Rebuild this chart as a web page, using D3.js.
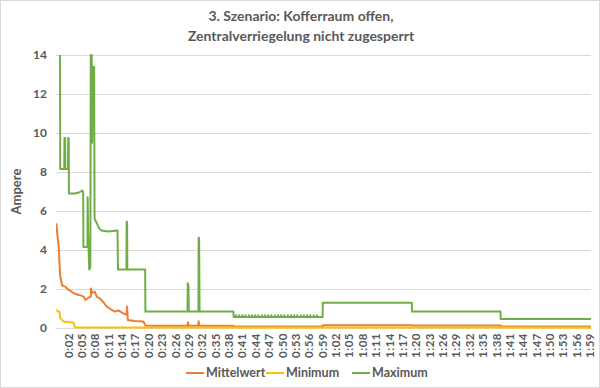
<!DOCTYPE html>
<html>
<head>
<meta charset="utf-8">
<script src="https://cdnjs.cloudflare.com/ajax/libs/d3/7.8.5/d3.min.js"></script>
<style>
  body { margin: 0; background: #fff; }
  text { font-family: Lato, "Open Sans", sans-serif; fill: #595959; }
</style>
</head>
<body>
<div id="chart"></div>
<script>
var width = 600,
	height = 388,
	plotLeft = 56,
	plotRight = 591,
	plotTop = 55,
	plotBottom = 328;

var titleLines = ["3. Szenario: Kofferraum offen,", "Zentralverriegelung nicht zugesperrt"];
var yTicks = [0, 2, 4, 6, 8, 10, 12, 14];
var xTickLabels = ["0:02","0:05","0:08","0:11","0:14","0:17","0:20","0:23","0:26","0:29",
	"0:32","0:35","0:38","0:41","0:44","0:47","0:50","0:53","0:56","0:59",
	"1:02","1:05","1:08","1:11","1:14","1:17","1:20","1:23","1:26","1:29",
	"1:32","1:35","1:38","1:41","1:44","1:47","1:50","1:53","1:56","1:59"];
var seriesNames = ["Mittelwert", "Minimum", "Maximum"];
var seriesColors = ["#ED7D31", "#FFC000", "#70AD47"];

// [seconds, ampere]
var mittelwert = [[-0.63,5.37],[-0.3,4.6],[-0.09,4.17],[0.04,3.49],[0.27,2.63],[0.65,2.2],[1.0,2.15],
	[1.39,2.12],[2.15,1.95],[2.7,1.88],[3.27,1.78],[4.39,1.69],[5.0,1.66],[5.52,1.6],[5.87,1.44],
	[6.3,1.5],[6.64,1.57],[7.1,1.6],[7.15,2.03],[7.38,1.8],[7.98,1.86],[8.5,1.6],[9.2,1.5],
	[10.0,1.3],[10.7,1.1],[11.6,0.96],[12.5,0.84],[13.3,0.9],[14.4,0.75],[15.15,0.67],[15.25,1.1],
	[15.4,0.41],[17.0,0.36],[18.9,0.33],[19.3,0.15],[19.4,0.12],[28.8,0.12],[28.9,0.3],[29.0,0.12],
	[31.2,0.12],[31.3,0.35],[31.4,0.12],[39.1,0.12],[39.15,0.08],[59.1,0.08],[59.15,0.14],
	[79.1,0.14],[79.15,0.13],[99.0,0.13],[99.05,0.08],[119.3,0.08]];

var minimum = [[-0.63,0.92],[-0.09,0.84],[0.04,0.84],[0.27,0.5],[1.03,0.33],[2.9,0.28],[3.2,0.28],
	[3.5,0.05],[4.0,0.03],[119.3,0.03]];

var maximum = [[0.2,14],[0.25,8.15],[1.15,8.15],[1.2,9.75],[1.35,9.75],[1.4,8.15],[2.0,8.15],
	[2.05,9.75],[2.15,9.75],[2.2,6.9],[3.5,6.9],[4.5,6.95],[5.2,7.05],[5.4,6.95],[5.45,4.15],
	[6.35,4.15],[6.4,6.7],[6.5,4.9],[6.75,3.0],[7.0,3.1],[7.1,14],[7.3,14],[7.4,9.5],[7.5,12.0],
	[7.6,11.9],[7.75,13.4],[7.85,13.4],[7.95,5.6],[8.4,5.4],[9.0,5.1],[9.5,5.0],[11,4.95],[12,4.98],
	[13.1,5.0],[13.2,3.0],[15.1,3.0],[15.15,5.45],[15.25,5.45],[15.3,3.0],[19.3,3.0],[19.35,0.84],
	[28.8,0.84],[28.85,2.3],[29.0,2.2],[29.1,0.84],[31.25,0.84],[31.3,4.63],[31.4,4.63],[31.5,0.84],
	[39.1,0.84],[39.15,0.56],
	[39.7,0.56],[39.7,0.66],[39.8,0.56],[40.4,0.56],[40.4,0.66],[40.5,0.56],[41.1,0.56],[41.1,0.66],[41.2,0.56],
	[41.8,0.56],[41.8,0.66],[41.9,0.56],[42.6,0.56],[42.6,0.66],[42.7,0.56],[43.3,0.56],[43.3,0.66],[43.4,0.56],
	[44.0,0.56],[44.0,0.66],[44.1,0.56],[44.7,0.56],[44.7,0.66],[44.8,0.56],[45.5,0.56],[45.5,0.66],[45.6,0.56],
	[46.2,0.56],[46.2,0.66],[46.3,0.56],[46.9,0.56],[46.9,0.66],[47.0,0.56],[47.6,0.56],[47.6,0.66],[47.7,0.56],
	[48.4,0.56],[48.4,0.66],[48.5,0.56],[49.1,0.56],[49.1,0.66],[49.2,0.56],[49.8,0.56],[49.8,0.66],[49.9,0.56],
	[50.5,0.56],[50.5,0.66],[50.6,0.56],[51.3,0.56],[51.3,0.66],[51.4,0.56],[52.0,0.56],[52.0,0.66],[52.1,0.56],
	[52.7,0.56],[52.7,0.66],[52.8,0.56],[53.4,0.56],[53.4,0.66],[53.5,0.56],[54.2,0.56],[54.2,0.66],[54.3,0.56],
	[54.9,0.56],[54.9,0.66],[55.0,0.56],[55.6,0.56],[55.6,0.66],[55.7,0.56],[56.3,0.56],[56.3,0.66],[56.4,0.56],
	[57.1,0.56],[57.1,0.66],[57.2,0.56],[57.8,0.56],[57.8,0.66],[57.9,0.56],
	[59.1,0.56],[59.15,1.3],[79.1,1.3],[79.15,0.84],[99.0,0.84],[99.05,0.46],[119.3,0.46]];

var allSeries = [mittelwert, minimum, maximum];

function parseTime(s) {
	var p = s.split(":");
	return +p[0] * 60 + +p[1];
}

var svg = d3.select("#chart").append("svg")
	.attr("width", width)
	.attr("height", height);

svg.append("rect")
	.attr("x", 0.5).attr("y", 0.5)
	.attr("width", width - 1).attr("height", height - 1)
	.style("fill", "#fff")
	.style("stroke", "#d9d9d9");

var x = d3.scaleLinear().domain([-0.7, 119.3]).range([plotLeft, plotRight]);
var y = d3.scaleLinear().domain([0, 14]).range([plotBottom, plotTop]);

// gridlines
svg.append("g")
	.selectAll("line")
	.data(yTicks)
	.enter()
	.append("line")
	.attr("x1", plotLeft).attr("x2", plotRight)
	.attr("y1", function(d) { return Math.round(y(d)) + 0.5; })
	.attr("y2", function(d) { return Math.round(y(d)) + 0.5; })
	.style("stroke", "#d9d9d9")
	.style("stroke-width", 1);

// y axis
var yAxis = svg.append("g")
	.attr("transform", "translate(" + plotLeft + ",0)")
	.call(d3.axisLeft(y).tickValues(yTicks).tickSize(0).tickPadding(9));
yAxis.select(".domain").remove();
yAxis.selectAll("text")
	.style("font-size", "12px")
	.style("font-weight", "bold")
	.style("fill", "#595959");

// x axis
var xAxis = svg.append("g")
	.attr("transform", "translate(0," + plotBottom + ")")
	.call(d3.axisBottom(x)
		.tickValues(xTickLabels.map(parseTime))
		.tickFormat(function(d, i) { return xTickLabels[i]; })
		.tickSize(0));
xAxis.select(".domain")
	.style("stroke", "#d9d9d9");
xAxis.selectAll("text")
	.attr("transform", "rotate(-90)")
	.attr("x", -5)
	.attr("y", 0)
	.attr("dy", "0.35em")
	.style("text-anchor", "end")
	.style("font-size", "11.5px")
	.style("font-weight", "bold")
	.style("letter-spacing", "0.5px")
	.style("fill", "#595959");

// lines
var line = d3.line()
	.x(function(d) { return x(d[0]); })
	.y(function(d) { return y(d[1]); });

svg.append("defs").append("clipPath")
	.attr("id", "plot")
	.append("rect")
	.attr("x", plotLeft).attr("y", plotTop - 1)
	.attr("width", plotRight - plotLeft).attr("height", plotBottom - plotTop + 2);

svg.append("g")
	.attr("clip-path", "url(#plot)")
	.selectAll("path")
	.data(allSeries)
	.enter()
	.append("path")
	.attr("d", line)
	.style("fill", "none")
	.style("stroke", function(d, i) { return seriesColors[i]; })
	.style("stroke-width", 2)
	.style("stroke-linejoin", "round");

// y title
svg.append("text")
	.attr("transform", "translate(21," + ((plotTop + plotBottom) / 2) + ") rotate(-90)")
	.style("text-anchor", "middle")
	.style("font-size", "13px")
	.style("font-weight", "bold")
	.text("Ampere");

// title
svg.append("g")
	.selectAll("text")
	.data(titleLines)
	.enter()
	.append("text")
	.attr("x", 301)
	.attr("y", function(d, i) { return 21 + i * 20; })
	.style("text-anchor", "middle")
	.style("font-size", "14px")
	.style("font-weight", "bold")
	.text(function(d) { return d; });

// legend
var legendX = [186, 266, 352];
var legend = svg.append("g")
	.selectAll("g")
	.data(seriesNames)
	.enter()
	.append("g")
	.attr("transform", function(d, i) { return "translate(" + legendX[i] + ",373)"; });
legend.append("line")
	.attr("x1", 0).attr("x2", 18)
	.style("stroke", function(d, i) { return seriesColors[i]; })
	.style("stroke-width", 2);
legend.append("text")
	.attr("x", 20)
	.attr("dy", "0.35em")
	.style("font-size", "12.5px")
	.style("font-weight", "bold")
	.text(function(d) { return d; });
</script>
</body>
</html>
